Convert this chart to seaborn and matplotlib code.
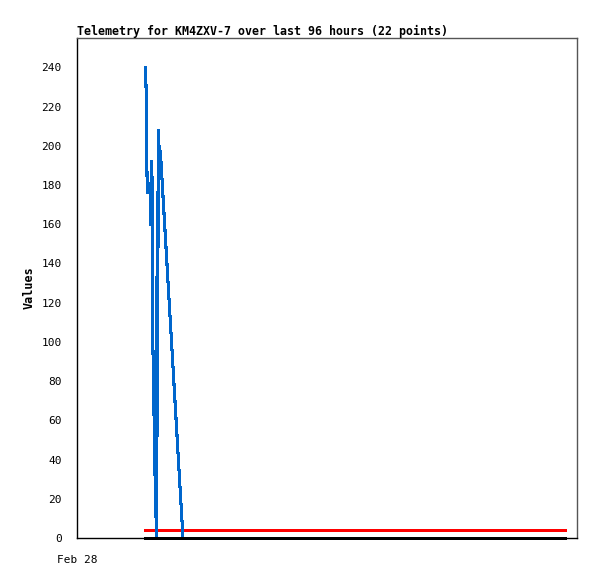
import pandas as pd
import seaborn as sns
import matplotlib.pyplot as plt
import matplotlib.dates as mdates

# telemetry readings (blue trace)
tele_times = ["13:09", "13:19", "13:24", "13:30", "14:03", "14:09", "14:15", "14:24",
              "14:35", "14:59", "15:16", "15:24", "15:29", "15:35", "15:44", "16:02", "20:21"]
tele_values = [240, 224, 192, 176, 176, 160, 192, 184, 96, 32, 0, 176, 52, 208, 200, 196, 0]

# flat reference traces
ref_times = ["2025-02-28 13:04", "2025-03-03 21:42"]
red_values = [4, 4]
black_values = [0, 0]

y_ticks = list(range(0, 241, 20))
title = "Telemetry for KM4ZXV-7 over last 96 hours (22 points)"

tele = pd.DataFrame({
    "time": pd.to_datetime(["2025-02-28 " + t for t in tele_times]),
    "value": tele_values,
})
ref = pd.DataFrame({
    "time": pd.to_datetime(ref_times),
    "red": red_values,
    "black": black_values,
})

sns.set_style("white")
plt.rcParams["font.family"] = ["DejaVu Sans Mono"]
plt.rcParams["text.color"] = "black"
plt.rcParams["axes.labelcolor"] = "black"
plt.rcParams["xtick.color"] = "black"
plt.rcParams["ytick.color"] = "black"

fig = plt.figure(figsize=(5.97, 5.79), dpi=100)
ax = fig.add_axes([77 / 597, 41 / 579, 500 / 597, 500 / 579])

sns.lineplot(x="time", y="red", data=ref, color="#ff0000", linewidth=2.0, ax=ax, antialiased=False)
sns.lineplot(x="time", y="black", data=ref, color="#000000", linewidth=1.8, ax=ax,
             antialiased=False, zorder=5, clip_on=False)
sns.lineplot(x="time", y="value", data=tele, color="#0066cc", linewidth=1.5, ax=ax,
             antialiased=False, sort=False, estimator=None)

t0 = pd.Timestamp("2025-02-28 00:00")
ax.set_xlim(t0, t0 + pd.Timedelta(hours=96))
ax.set_ylim(0, 255)
ax.set_yticks(y_ticks)
ax.set_xticks([t0])
ax.xaxis.set_major_formatter(mdates.DateFormatter("%b %d"))
ax.tick_params(axis="both", direction="out", length=7, width=1, color="black",
               labelsize=8, pad=4)
ax.tick_params(axis="x", length=10, pad=2)

for side in ["left", "bottom"]:
    ax.spines[side].set_color("black")
    ax.spines[side].set_linewidth(1.0)
for side in ["top", "right"]:
    ax.spines[side].set_color("#555555")
    ax.spines[side].set_linewidth(1)

ax.set_xlabel("")
ax.set_ylabel("Values", fontsize=8.5, fontweight="bold", labelpad=4)
ax.set_title(title, loc="left", fontsize=8.4, fontweight="bold", pad=2)
if ax.get_legend():
    ax.get_legend().remove()

plt.savefig("out.png", dpi=100)
